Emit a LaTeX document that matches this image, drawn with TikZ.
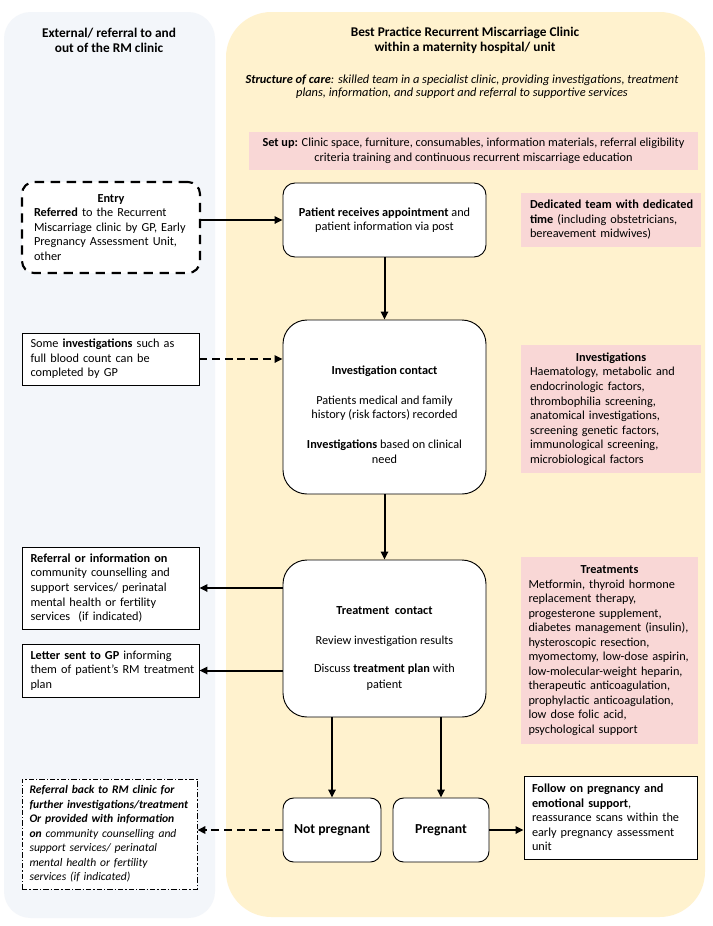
\documentclass[tikz,border=0pt]{standalone}
\usepackage{fontspec}
\setmainfont{Carlito}
\usetikzlibrary{arrows.meta}
\definecolor{panelblue}{RGB}{243,246,250}
\definecolor{panelyellow}{RGB}{255,242,206}
\definecolor{pinkfill}{RGB}{249,215,214}
\newlength\pxu
\setlength\pxu{0.75pt}
\newcommand\bodyfont{\fontsize{9.2pt}{10.9pt}\selectfont}
\newcommand\refbackfont{\fontsize{8.7pt}{10.9pt}\selectfont\itshape}
\newcommand\titlefont{\fontsize{10pt}{11.4pt}\selectfont\bfseries}
\newcommand\smallitfont{\fontsize{9.3pt}{10pt}\selectfont\itshape}
\newcommand\bigbold{\fontsize{10.3pt}{12pt}\selectfont\bfseries}
\newcommand\nb[1]{\mbox{#1}}
\begin{document}
\begin{tikzpicture}[x=0.75pt,y=-0.75pt,
  box/.style={draw=black, line width=0.7pt, fill=white, inner sep=0pt, font=\bodyfont},
  rbox/.style={box, rounded corners=#1},
  pinkbox/.style={fill=pinkfill, inner sep=0pt, font=\bodyfont},
  arr/.style={line width=1.5pt, -{Triangle[length=6pt,width=5.5pt]}},
  darr/.style={arr, dash pattern=on 6pt off 3.5pt},
  panel title/.style={font=\titlefont, align=center, inner sep=0pt}
]
\useasboundingbox (0,0) rectangle (713,926);
\fill[white] (0,0) rectangle (713,926);

% background panels
\fill[panelblue, rounded corners=20pt] (4,12) rectangle (215,918);
\fill[panelyellow, rounded corners=34pt] (226,12) rectangle (705,917);

% titles
\node[panel title] (lefttitle) at (109,40) {External/ referral to and\\out of the RM clinic};
\node[panel title] (righttitle) at (465,40) {Best Practice Recurrent Miscarriage Clinic\\within a maternity hospital/ unit};
\node[font=\smallitfont, align=center, inner sep=0pt] (structure) at (462,87)
  {\textbf{Structure of care}: skilled team in a specialist clinic, providing investigations, treatment\\plans, information, and support and referral to supportive services};

% pink boxes
\node[pinkbox, minimum width=449*\pxu, minimum height=38*\pxu, align=center] (setup) at (473.5,151)
  {\textbf{Set up:} Clinic space, furniture, consumables, information materials, referral eligibility\\criteria training and continuous recurrent miscarriage education};
\node[pinkbox, minimum width=180*\pxu, minimum height=54*\pxu, text width=162*\pxu, align=left] (dedicated) at (611,220)
  {\nb{\textbf{Dedicated team with dedicated}}\\\nb{\textbf{time} (including obstetricians,}\\bereavement midwives)};
\node[pinkbox, minimum width=180*\pxu, minimum height=128*\pxu, text width=162*\pxu, align=left] (invpink) at (611,409)
  {\makebox[\linewidth]{\textbf{Investigations}}\\\nb{Haematology, metabolic and}\\endocrinologic factors,\\thrombophilia screening,\\\nb{anatomical investigations,}\\\nb{screening genetic factors,}\\\nb{immunological screening,}\\microbiological factors};
\node[pinkbox, minimum width=177*\pxu, minimum height=187*\pxu, text width=162*\pxu, align=left] (treatpink) at (609.5,650.5)
  {\makebox[\linewidth]{\textbf{Treatments}}\\\nb{Metformin, thyroid hormone}\\replacement therapy,\\\nb{progesterone supplement,}\\\nb{diabetes management (insulin),}\\\nb{hysteroscopic resection,}\\\nb{myomectomy, low-dose aspirin,}\\\nb{low-molecular-weight heparin,}\\\nb{therapeutic anticoagulation,}\\\nb{prophylactic anticoagulation,}\\low dose folic acid,\\psychological support};

% main flow
\node[rbox=9pt, minimum width=203*\pxu, minimum height=74*\pxu, align=center] (patient) at (384.5,220)
  {\textbf{Patient receives appointment} and\\patient information via post};
\node[rbox=18pt, minimum width=203*\pxu, minimum height=174*\pxu, align=center] (invest) at (384.5,407)
  {\rule{0pt}{17.5pt}\textbf{Investigation contact}\\[11.5pt]Patients medical and family\\history (risk factors) recorded\\[11.5pt]\textbf{Investigations} based on clinical\\need};
\node[rbox=18pt, minimum width=203*\pxu, minimum height=157*\pxu, align=center] (treat) at (384.5,638.5)
  {\rule{0pt}{21pt}\textbf{Treatment~ contact}\\[11.5pt]Review investigation results\\[10pt]Discuss \textbf{treatment plan} with\\[1.5pt]patient};
\node[rbox=8pt, minimum width=98*\pxu, minimum height=64*\pxu, font=\bigbold] (notpreg) at (332,830) {Not pregnant};
\node[rbox=8pt, minimum width=96*\pxu, minimum height=64*\pxu, font=\bigbold] (preg) at (441,830) {Pregnant};

% left column
\node[rbox=9pt, draw, line width=1.6pt, dash pattern=on 7pt off 5pt, minimum width=178*\pxu, minimum height=91*\pxu, text width=154*\pxu, align=left] (entry) at (111,227.5)
  {\makebox[\linewidth]{\textbf{Entry}}\\\nb{\textbf{Referred} to the Recurrent}\\\nb{Miscarriage clinic by GP, Early}\\\nb{Pregnancy Assessment Unit,}\\other};
\node[box, minimum width=177*\pxu, minimum height=52*\pxu, text width=160*\pxu, align=left] (someinv) at (110.5,359)
  {\nb{Some \textbf{investigations} such as}\\full blood count can be\\completed by GP};
\node[box, minimum width=177*\pxu, minimum height=82*\pxu, text width=160*\pxu, align=left] (referral) at (110.5,588)
  {\nb{\textbf{Referral or information on}}\\\nb{community counselling and}\\\nb{support services/ perinatal}\\mental health or fertility\\services~ (if indicated)};
\node[box, minimum width=177*\pxu, minimum height=53*\pxu, text width=160*\pxu, align=left] (letter) at (110.5,670.5)
  {\nb{\textbf{Letter sent to GP} informing}\\\nb{them of patient's RM treatment}\\plan};
\node[box, line width=0.6pt, dash pattern=on 4pt off 1.5pt on 1pt off 1.5pt, minimum width=175*\pxu, minimum height=110*\pxu, text width=160*\pxu, align=left, font=\refbackfont] (refback) at (109.5,834)
  {\nb{\textbf{Referral back to RM clinic for}}\\\nb{\textbf{further investigations/treatment}}\\\nb{\textbf{Or provided with information}}\\\nb{\textbf{on} community counselling and}\\\nb{support services/ perinatal}\\mental health or fertility\\services (if indicated)};
\node[box, minimum width=173*\pxu, minimum height=83*\pxu, text width=157*\pxu, align=left] (follow) at (610.5,817.5)
  {\nb{\textbf{Follow on pregnancy and}}\\\textbf{emotional support},\\\nb{reassurance scans within the}\\\nb{early pregnancy assessment}\\unit};

% connectors
\draw[arr] (entry.east |- patient.west) -- (patient.west);
\draw[arr] (patient.south) -- (invest.north);
\draw[darr] (someinv.east) -- (someinv.east -| invest.west);
\draw[arr] (invest.south) -- (treat.north);
\draw[arr] (treat.west |- referral.east) -- (referral.east);
\draw[arr] (treat.west |- letter.east) -- (letter.east);
\draw[arr] (treat.south -| notpreg.north) -- (notpreg.north);
\draw[arr] (treat.south -| preg.north) -- (preg.north);
\draw[darr] (notpreg.west) -- (notpreg.west -| refback.east);
\draw[arr] (preg.east) -- (preg.east -| follow.west);
\end{tikzpicture}
\end{document}
